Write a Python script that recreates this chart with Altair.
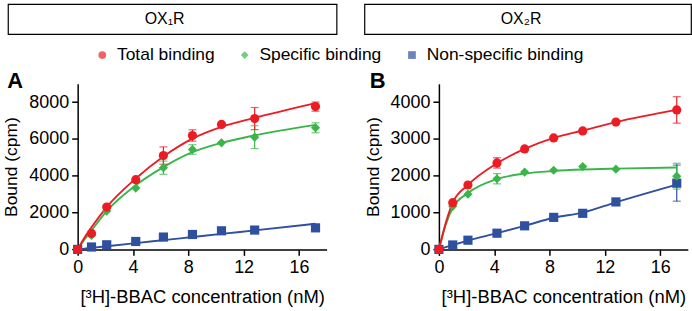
import altair as alt
import pandas as pd

# ---------------- data ----------------
series_names = ["Total binding", "Specific binding", "Non-specific binding"]
series_colors = ["#ec1c24", "#3ab54a", "#2f4f9f"]
series_shapes = ["circle", "diamond", "square"]

conc = [0, 1.0, 2.1, 4.2, 6.2, 8.3, 10.4, 12.8, 17.2]

a_total = [0, 870, 2300, 3790, 5100, 6190, 6790, 7110, 7760]
a_total_err = [0, 0, 0, 0, 470, 310, 0, 600, 250]
a_specific = [0, 760, 2080, 3330, 4440, 5430, 5790, 6100, 6610]
a_specific_err = [0, 0, 0, 0, 360, 260, 0, 620, 270]
a_nonspecific = [0, 130, 250, 430, 670, 810, 1010, 1050, 1170]
a_nonspecific_err = [0, 0, 0, 0, 0, 0, 0, 0, 0]

b_total = [0, 1270, 1750, 2350, 2730, 3030, 3220, 3460, 3790]
b_total_err = [0, 0, 0, 140, 0, 0, 0, 0, 360]
b_specific = [0, 1170, 1500, 1920, 2100, 2150, 2250, 2180, 1990]
b_specific_err = [0, 0, 0, 140, 0, 0, 0, 0, 350]
b_nonspecific = [0, 120, 250, 440, 640, 870, 980, 1290, 1800]
b_nonspecific_err = [0, 0, 0, 0, 0, 0, 0, 0, 490]

# fitted curves
fit_x = [0, 0.5, 1.0, 2.1, 4.2, 6.2, 8.3, 10.4, 12.8, 17.2]
a_total_fit = [0, 640, 1200, 2300, 3850, 5050, 6020, 6660, 7150, 7950]
a_specific_fit = [0, 540, 1030, 2080, 3480, 4470, 5280, 5790, 6200, 6770]
a_nonspecific_fit = [0, 40, 80, 170, 340, 500, 670, 840, 1030, 1390]
b_total_fit = [0, 720, 1270, 1750, 2340, 2730, 3030, 3230, 3460, 3790]
b_specific_fit = [0, 680, 1130, 1530, 1910, 2060, 2130, 2170, 2195, 2225]
b_nonspecific_fit = [0, 60, 120, 240, 440, 640, 860, 1000, 1280, 1760]

x_ticks = [0, 4, 8, 12, 16]
a_y_ticks = [0, 2000, 4000, 6000, 8000]
b_y_ticks = [0, 1000, 2000, 3000, 4000]

x_title = "[³H]-BBAC concentration (nM)"
y_title = "Bound (cpm)"

FONT = "Liberation Sans"


def build_frames(values, errs, fits):
    color_of = dict(zip(series_names, series_colors))
    pts, ebs, lns = [], [], []
    # draw order: blue, green, red (red on top)
    for name in reversed(series_names):
        idx = series_names.index(name)
        for c, v, e in zip(conc, values[idx], errs[idx]):
            pts.append({"series": name, "conc": c, "value": v})
            if e > 0:
                ebs.append({"series": name, "col": color_of[name], "conc": c,
                            "lo": v - e, "hi": v + e})
        for c, v in zip(fit_x, fits[idx]):
            lns.append({"series": name, "col": color_of[name], "conc": c, "value": v})
    return pd.DataFrame(pts), pd.DataFrame(ebs), pd.DataFrame(lns)


legend = alt.Legend(orient="none", legendX=16, legendY=-38, direction="horizontal",
                    title=None, labelFontSize=17.5, labelFont=FONT, labelColor="black",
                    symbolSize=60, columnPadding=21, labelOffset=6,
                    symbolStrokeWidth=0, symbolOpacity=1)


def panel(values, errs, fits, ymax, yticks, header, header_x, box_x, box_x2, letter, letter_x):
    pts, ebs, lns = build_frames(values, errs, fits)
    xscale = alt.Scale(domain=[0, 18], nice=False)
    yscale = alt.Scale(domain=[0, ymax], nice=False)
    xaxis = alt.Axis(values=x_ticks, title=x_title, titleFontSize=18.5, titlePadding=11,
                     labelFlush=False, format="d")
    yaxis = alt.Axis(values=yticks, title=y_title, titleFontSize=17.5, titlePadding=8,
                     labelFlush=False, format="d")

    lines = alt.Chart(lns).mark_line(strokeWidth=1.9, interpolate="monotone").encode(
        x=alt.X("conc:Q", scale=xscale, axis=xaxis),
        y=alt.Y("value:Q", scale=yscale, axis=yaxis),
        color=alt.Color("col:N", scale=None),
        detail="series:N",
    )
    rules = alt.Chart(ebs).mark_rule(strokeWidth=1.2).encode(
        x=alt.X("conc:Q", scale=xscale, axis=xaxis),
        y=alt.Y("lo:Q", scale=yscale, axis=yaxis),
        y2="hi:Q",
        color=alt.Color("col:N", scale=None),
    )
    cap_lo = alt.Chart(ebs).mark_tick(orient="horizontal", size=8, thickness=1.2).encode(
        x=alt.X("conc:Q", scale=xscale, axis=xaxis),
        y=alt.Y("lo:Q", scale=yscale, axis=yaxis),
        color=alt.Color("col:N", scale=None),
    )
    cap_hi = alt.Chart(ebs).mark_tick(orient="horizontal", size=8, thickness=1.2).encode(
        x=alt.X("conc:Q", scale=xscale, axis=xaxis),
        y=alt.Y("hi:Q", scale=yscale, axis=yaxis),
        color=alt.Color("col:N", scale=None),
    )
    points = alt.Chart(pts).mark_point(filled=True, opacity=1, size=85).encode(
        x=alt.X("conc:Q", scale=xscale, axis=xaxis),
        y=alt.Y("value:Q", scale=yscale, axis=yaxis),
        color=alt.Color("series:N", scale=alt.Scale(domain=series_names, range=series_colors),
                        legend=legend),
        shape=alt.Shape("series:N", scale=alt.Scale(domain=series_names, range=series_shapes),
                        legend=legend),
    )
    deco = pd.DataFrame({"header": [header], "letter": [letter]})
    box = alt.Chart(deco).mark_rect(fill="white", stroke="black", strokeWidth=1.2).encode(
        x=alt.value(box_x), x2=alt.value(box_x2), y=alt.value(-79.7), y2=alt.value(-49.7))
    head = alt.Chart(deco).mark_text(fontSize=16, font=FONT, color="black",
                                     baseline="middle", align="center").encode(
        x=alt.value(header_x), y=alt.value(-64.7), text="header:N")
    let = alt.Chart(deco).mark_text(fontSize=22, font=FONT, fontWeight="bold", color="black",
                                    baseline="alphabetic", align="left").encode(
        x=alt.value(letter_x), y=alt.value(4), text="letter:N")
    return alt.layer(box, head, let, lines, rules, cap_lo, cap_hi, points).properties(
        width=250, height=166.3)


chart_a = panel([a_total, a_specific, a_nonspecific],
                [a_total_err, a_specific_err, a_nonspecific_err],
                [a_total_fit, a_specific_fit, a_nonspecific_fit],
                9000, a_y_ticks, "OX₁R", 87.3, -69.7, 260.3, "A", -70.7)
chart_b = panel([b_total, b_specific, b_nonspecific],
                [b_total_err, b_specific_err, b_nonspecific_err],
                [b_total_fit, b_specific_fit, b_nonspecific_fit],
                4500, b_y_ticks, "OX₂R", 82.5, -74.5, 253.5, "B", -69.5)

chart = alt.hconcat(chart_a, chart_b, spacing=112.8, bounds="flush",
                    padding={"left": 2, "top": 2.5, "right": 0, "bottom": 0}).configure(
    font=FONT
).configure_view(stroke=None).configure_axis(
    labelFont=FONT, titleFont=FONT, labelFontSize=18, labelColor="black", titleColor="black",
    titleFontWeight="normal", domainColor="black", domainWidth=1.5, tickColor="black",
    tickWidth=1.5, tickSize=6, labelPadding=3, grid=False,
)

chart.save("out.html", embed_options={"renderer": "svg", "actions": False})
